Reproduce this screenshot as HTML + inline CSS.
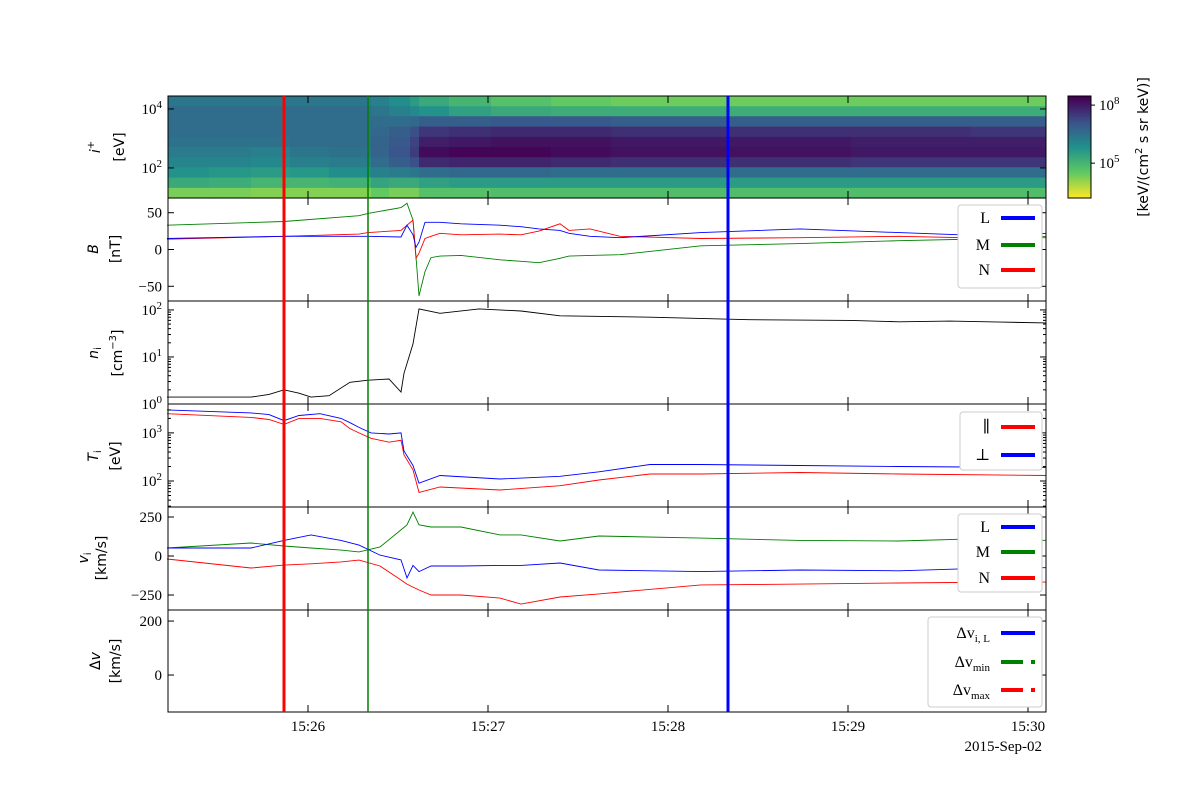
<!DOCTYPE html>
<html><head><meta charset="utf-8"><style>
body{margin:0;background:#fff}
svg{font-family:"Liberation Serif","DejaVu Serif",serif}
</style></head><body>
<svg id="c" width="1200" height="800" viewBox="0 0 1200 800"></svg>
<script>
// ---------- data ----------
// times in seconds after 15:25:00
const bTimes=[13,52,77,80,91,93,95,96,97,99,101,104,111,124,131,137,144,147,154,164,191,224,257,291,306];
const bL=[15,18,18,18,17,33,20,3,10,37,37,37,35,33,31,28,26,22,18,16,23,28,23,18,22];
const bM=[33,38,46,49,57,63,40,-10,-63,-30,-11,-9,-8,-14,-16,-18,-12,-9,-8,-7,5,8,12,15,18];
const bN=[14,18,21,23,26,33,40,-12,-5,15,18,22,20,21,20,25,35,26,28,18,15,16,18,15,16];
const nTimes=[13,41,47,52,57,61,67,74,80,87,91,92,95,97,104,117,131,144,174,207,241,257,274,291,306];
const nVals=[1.4,1.4,1.6,2.0,1.7,1.4,1.5,2.9,3.2,3.4,1.8,4.5,19,105,85,105,95,75,70,62,60,56,58,55,53];
const tTimes=[13,41,47,52,57,64,71,74,77,81,87,91,92,95,97,104,124,144,157,174,191,224,257,306];
const tPerp=[3000,2600,2400,1800,2300,2500,2000,1630,1300,1000,950,1000,420,210,90,130,110,125,155,220,220,210,200,190];
const tPar=[2500,2100,1900,1500,2000,2000,1700,1230,1000,770,640,700,350,170,58,75,65,80,105,140,140,150,140,130];
const vTimes=[13,41,52,61,71,77,84,91,93,95,97,101,111,124,131,144,157,191,224,257,291,306];
const vL=[51,51,100,135,100,70,6,-25,-140,-60,-100,-64,-64,-60,-60,-45,-90,-100,-90,-95,-75,-75];
const vM=[51,83,64,51,38,26,58,167,200,282,200,186,186,135,135,96,128,115,100,96,115,100];
const vN=[-19,-77,-58,-50,-38,-26,-64,-154,-180,-199,-218,-250,-250,-270,-308,-263,-243,-185,-180,-173,-167,-167];
const dvTicks=[200,0];
// spectrogram: column edges (s) and log10 flux rows (top→bottom energy)
const specEdges=[13,27,41,54,67,81,87,94,97,107,121,141,161,181,201,221,241,261,281,306];
const specLogE=[4.27,3.92,3.58,3.23,2.88,2.54,2.19,1.85,1.50,1.15];
const specVals=[
[6.4,6.6,6.6,6.6,6.5,6.3,6.1,5.8,5.3,4.3],
[6.4,6.6,6.6,6.6,6.5,6.3,6.1,5.7,5.2,4.3],
[6.4,6.6,6.6,6.6,6.5,6.2,6.0,5.6,5.0,4.2],
[6.4,6.6,6.6,6.6,6.6,6.4,6.2,5.7,5.0,4.2],
[6.4,6.6,6.6,6.6,6.6,6.5,6.3,5.9,5.1,4.2],
[6.2,6.4,6.6,6.7,6.8,6.8,6.6,6.2,5.4,4.5],
[5.9,6.2,6.6,6.9,7.0,7.1,6.9,6.3,5.3,4.3],
[5.6,6.0,6.7,7.2,7.4,7.5,7.2,6.4,5.3,4.3],
[5.3,5.8,6.9,7.6,8.0,8.3,7.8,6.6,5.5,4.7],
[5.0,5.5,6.9,7.7,8.1,8.4,7.9,6.7,5.6,4.7],
[4.7,5.3,7.0,7.8,8.2,8.4,7.9,6.7,5.6,4.8],
[4.5,5.2,7.0,7.8,8.2,8.3,7.8,6.6,5.6,4.8],
[4.4,5.2,6.9,7.7,8.1,8.2,7.7,6.6,5.6,4.8],
[4.4,5.2,6.9,7.7,8.1,8.2,7.7,6.6,5.6,4.8],
[4.4,5.2,6.9,7.7,8.1,8.2,7.7,6.6,5.6,4.8],
[4.4,5.2,6.9,7.7,8.1,8.2,7.7,6.6,5.6,4.8],
[4.4,5.2,6.9,7.7,8.0,8.1,7.6,6.6,5.6,4.8],
[4.4,5.2,6.9,7.7,8.0,8.1,7.6,6.6,5.6,4.8],
[4.4,5.2,6.9,7.6,8.0,8.1,7.6,6.6,5.6,4.8]];
const markerTimes=[52,80,200];
const markerColors=['#ff0000','#008000','#0000ff'];
const markerWidths=[3,1.5,3];
const xTickTimes=[60,120,180,240,300];
const xTickLabels=['15:26','15:27','15:28','15:29','15:30'];

// ---------- helpers ----------
const NS='http://www.w3.org/2000/svg';
const svg=document.getElementById('c');
function mk(tag,attrs,parent){const e=document.createElementNS(NS,tag);for(const k in attrs)e.setAttribute(k,attrs[k]);(parent||svg).appendChild(e);return e;}
const X0=168,X1=1046;
const xs=t=>308+(t-60)*3;
const panels=[[96,198],[198,301],[301,404],[404,507],[507,610],[610,712]];
function lin(p,lo,hi){const [a,b]=panels[p];return v=>b-(v-lo)/(hi-lo)*(b-a);}
function lg(p,lo,hi){const [a,b]=panels[p];return v=>b-(Math.log10(v)-lo)/(hi-lo)*(b-a);}
const yB=lin(1,-70,70), yN=lg(2,0,2.19), yT=lg(3,1.46,3.6), yV=lin(4,-346,314), yD=lin(5,-137,241);
const ySpec=v=>198-(v-0.98)/(4.44-0.98)*102;

function viridis(u){
  const st=[[68,1,84],[59,82,139],[33,145,140],[94,201,98],[253,231,37]];
  u=Math.max(0,Math.min(1,u));const f=u*4,i=Math.min(3,Math.floor(f)),r=f-i;
  const c=st[i].map((v,k)=>Math.round(v+(st[i+1][k]-v)*r));return `rgb(${c})`;}
const fluxColor=v=>viridis(1-(v-3.2)/(8.47-3.2));

function line(times,vals,yf,color,name){
  const d=times.map((t,i)=>(i?'L':'M')+xs(t).toFixed(1)+','+yf(vals[i]).toFixed(1)).join('');
  const p=mk('path',{d,fill:'none',stroke:color,'stroke-width':0.9});
  
  
}

// ---------- spectrogram ----------
const gS=mk('g',{});


const eStep=(4.44-0.98)/specLogE.length;
for(let c=0;c<specVals.length;c++){
  for(let r=0;r<specLogE.length;r++){
    const top=ySpec(specLogE[r]+eStep/2), bot=ySpec(specLogE[r]-eStep/2);
    const x=xs(specEdges[c]), w=xs(specEdges[c+1])-x;
    const cell=mk('rect',{x:Math.max(X0,x),y:top,width:w+0.5,height:bot-top+0.5,fill:fluxColor(specVals[c][r])},gS);
    
    
  }
}

// ---------- series ----------
line(bTimes,bM,yB,'#008000','b-m-line');
line(bTimes,bN,yB,'#ff0000','b-n-line');
line(bTimes,bL,yB,'#0000ff','b-l-line');
line(nTimes,nVals,yN,'#000000','density-line');
line(tTimes,tPar,yT,'#ff0000','t-par-line');
line(tTimes,tPerp,yT,'#0000ff','t-perp-line');
line(vTimes,vM,yV,'#008000','v-m-line');
line(vTimes,vN,yV,'#ff0000','v-n-line');
line(vTimes,vL,yV,'#0000ff','v-l-line');

// ---------- frames & ticks ----------
panels.forEach(([a,b],i)=>{
  const r=mk('rect',{x:X0,y:a,width:X1-X0,height:b-a,fill:'none',stroke:'#000','stroke-width':1});
  
  
  xTickTimes.forEach(t=>{const x=xs(t);mk('line',{x1:x,x2:x,y1:b,y2:b-7,stroke:'#000'});mk('line',{x1:x,x2:x,y1:a,y2:a+7,stroke:'#000'});});
});
function yTick(y,label,sup,name){
  mk('line',{x1:X0,x2:X0+6,y1:y,y2:y,stroke:'#000'});mk('line',{x1:X1,x2:X1-6,y1:y,y2:y,stroke:'#000'});
  const t=mk('text',{x:162,y:y+5,'text-anchor':'end','font-size':15});
  
  
  t.textContent=label;
  if(sup){const s=mk('tspan',{dy:-6,'font-size':11},t);s.textContent=sup;}
}
function minor(y){mk('line',{x1:X0,x2:X0+3,y1:y,y2:y,stroke:'#000'});mk('line',{x1:X1,x2:X1-3,y1:y,y2:y,stroke:'#000'});}
yTick(ySpec(4),'10','4','spec-tick-1e4');yTick(ySpec(2),'10','2','spec-tick-1e2');
[50,0,-50].forEach(v=>yTick(yB(v),v<0?'−'+(-v):String(v),null,'b-tick'));
[2,1,0].forEach(e=>yTick(yN(Math.pow(10,e)),'10',String(e),'n-tick'));
[0,1].forEach(e=>{for(let m=2;m<10;m++)minor(yN(m*Math.pow(10,e)));});
[3,2].forEach(e=>yTick(yT(Math.pow(10,e)),'10',String(e),'t-tick'));
[1,2,3].forEach(e=>{for(let m=2;m<10;m++){const y=yT(m*Math.pow(10,e));if(y>404&&y<507)minor(y);}});
[250,0,-250].forEach(v=>yTick(yV(v),v<0?'−'+(-v):String(v),null,'v-tick'));
dvTicks.forEach(v=>yTick(yD(v),String(v),null,'dv-tick'));
xTickTimes.forEach((t,i)=>{const e=mk('text',{x:xs(t),y:731,'text-anchor':'middle','font-size':15});
  
  
  e.textContent=xTickLabels[i];});
const dt=mk('text',{x:1042,y:751,'text-anchor':'end','font-size':15});


dt.textContent='2015-Sep-02';

// ---------- marker lines ----------
markerTimes.forEach((t,i)=>{const l=mk('line',{x1:xs(t),x2:xs(t),y1:96,y2:712,stroke:markerColors[i],'stroke-width':markerWidths[i]});
  
  });

// ---------- y labels ----------
function ylab(cx,cy,html,name){const t=mk('text',{transform:`translate(${cx},${cy}) rotate(-90)`,'text-anchor':'middle','font-size':14,'font-family':'"DejaVu Sans",sans-serif'});
  
  
  t.innerHTML=html;}
ylab(100,147,'<tspan font-style="italic">i</tspan><tspan dy="-6" font-size="10">+</tspan>','spec-ylabel');
ylab(124,147,'[eV]','spec-unit');
ylab(98,249,'<tspan font-style="italic">B</tspan>','b-ylabel');ylab(120,249,'[nT]','b-unit');
ylab(98,353,'<tspan font-style="italic">n</tspan><tspan dy="3" font-size="10">i</tspan>','n-ylabel');
ylab(122,353,'[cm<tspan dy="-6" font-size="10">−3</tspan><tspan dy="6">]</tspan>','n-unit');
ylab(98,456,'<tspan font-style="italic">T</tspan><tspan dy="3" font-size="10">i</tspan>','t-ylabel');ylab(120,456,'[eV]','t-unit');
ylab(88,558,'<tspan font-style="italic">v</tspan><tspan dy="3" font-size="10">i</tspan>','v-ylabel');ylab(106,558,'[km/s]','v-unit');
ylab(100,661,'Δ<tspan font-style="italic">v</tspan>','dv-ylabel');ylab(120,661,'[km/s]','dv-unit');

// ---------- legends ----------
function legend(x,y,w,h,items,name){
  const g=mk('g',{});
  mk('rect',{x,y,width:w,height:h,rx:3,fill:'#fff',stroke:'#ccc'},g);
  items.forEach(([lab,col,dash,yy])=>{
    const t=mk('text',{x:x+w-52,y:yy+5,'text-anchor':'end','font-size':16},g);t.innerHTML=lab;
    mk('line',{x1:x+w-41,x2:x+w-7,y1:yy,y2:yy,stroke:col,'stroke-width':4,'stroke-dasharray':dash||'none'},g);
  });
}
legend(958,205,84,83,[['L','#0000ff',0,218],['M','#008000',0,245],['N','#ff0000',0,270]],'b-legend');
legend(960,412,82,58,[['∥','#ff0000',0,427],['⊥','#0000ff',0,455]],'t-legend');
legend(958,514,84,78,[['L','#0000ff',0,527],['M','#008000',0,552],['N','#ff0000',0,578]],'v-legend');
legend(928,617,114,90,[['Δv<tspan dy="4" font-size="11">i, L</tspan>','#0000ff',0,633],['Δv<tspan dy="4" font-size="11">min</tspan>','#008000','22 8 4 8',662],['Δv<tspan dy="4" font-size="11">max</tspan>','#ff0000','22 8 4 8',690]],'dv-legend');

// ---------- colorbar ----------
const cb=mk('g',{});
for(let i=0;i<51;i++){const v=3.2+(i/50)*(8.47-3.2);const y=198-(i+1)*102/51;
  mk('rect',{x:1068,y:y,width:23,height:102/51+0.6,fill:fluxColor(v)},cb);}
mk('rect',{x:1068,y:96,width:23,height:102,fill:'none',stroke:'#000'},cb);
const ycb=v=>198-(v-3.2)/(8.47-3.2)*102;
[8,5].forEach(e=>{mk('line',{x1:1091,x2:1095,y1:ycb(e),y2:ycb(e),stroke:'#000'},cb);
  const t=mk('text',{x:1099,y:ycb(e)+5,'font-size':15},cb);t.innerHTML='10<tspan dy="-6" font-size="11">'+e+'</tspan>';});
const cl=mk('text',{transform:'translate(1148,147) rotate(-90)','text-anchor':'middle','font-size':14,'font-family':'"DejaVu Sans",sans-serif'});


cl.innerHTML='[keV/(cm<tspan dy="-6" font-size="10">2</tspan><tspan dy="6"> s sr keV)]</tspan>';
</script>
</body></html>
